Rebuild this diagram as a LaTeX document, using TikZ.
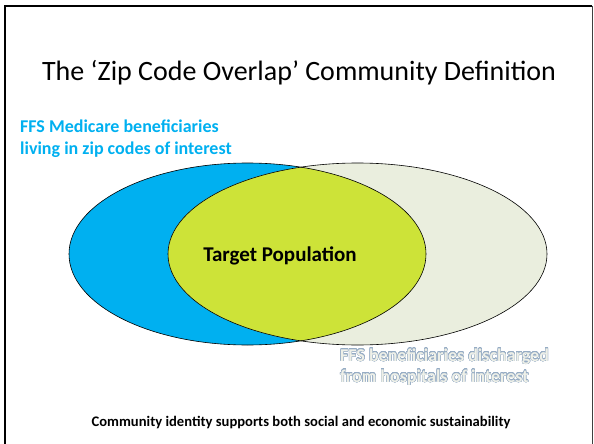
\documentclass[tikz,border=0pt]{standalone}
\usepackage{fontspec}
\setmainfont{Carlito}
\usepackage{contour}
\contourlength{0.3pt}
\contournumber{24}
\definecolor{zipblue}{RGB}{0,176,240}
\definecolor{lensgreen}{RGB}{205,227,56}
\definecolor{palegrey}{RGB}{234,238,222}
\definecolor{textfill}{RGB}{238,240,232}
\definecolor{outlinegrey}{RGB}{150,172,196}
\tikzset{
  lbl/.style={inner sep=0pt, anchor=base west, align=left},
  ell/.style={draw=black, line width=0.6pt},
}
\begin{document}
\begin{tikzpicture}[x=1pt,y=-1pt]
\useasboundingbox (0,0) rectangle (594,444);
\begin{scope}
\clip (0,0) rectangle (594,444);
\draw[line width=2.6pt] (5,460) -- (5,6) -- (592,6);
\draw[line width=1.6pt, black!75] (592.5,6) -- (592.5,460);
\end{scope}
% title
\node[inner sep=0pt, anchor=base] (title) at (299,81) {\fontsize{28}{34}\selectfont The ‘Zip Code Overlap’ Community Definition};
% left label
\node[lbl, text=zipblue, font=\bfseries\fontsize{18}{22}\selectfont] (leftlbl) at (20,154) {FFS Medicare beneficiaries\\living in zip codes of interest};
% ellipses
\fill[zipblue] (247.5,254) ellipse [x radius=178.5, y radius=91];
\fill[palegrey] (357.5,254) ellipse [x radius=189.5, y radius=91];
\begin{scope}
\clip (247.5,254) ellipse [x radius=178.5, y radius=91];
\fill[lensgreen] (357.5,254) ellipse [x radius=189.5, y radius=91];
\end{scope}
\draw[ell] (247.5,254) ellipse [x radius=178.5, y radius=91];
\draw[ell] (357.5,254) ellipse [x radius=189.5, y radius=91];
\node[inner sep=0pt, font=\bfseries\fontsize{21}{24}\selectfont] (target) at (280,256) {Target Population};
% right label
\node[lbl, font=\bfseries\fontsize{18}{21}\selectfont] (rightlbl) at (340,382) {\contour{outlinegrey}{\textcolor{textfill}{FFS beneficiaries discharged}}\\\contour{outlinegrey}{\textcolor{textfill}{from hospitals of interest}}};
% bottom
\node[inner sep=0pt, anchor=base, font=\bfseries\fontsize{14.6}{17}\selectfont] (bottom) at (301,426) {Community identity supports both social and economic sustainability};
\end{tikzpicture}
\end{document}
